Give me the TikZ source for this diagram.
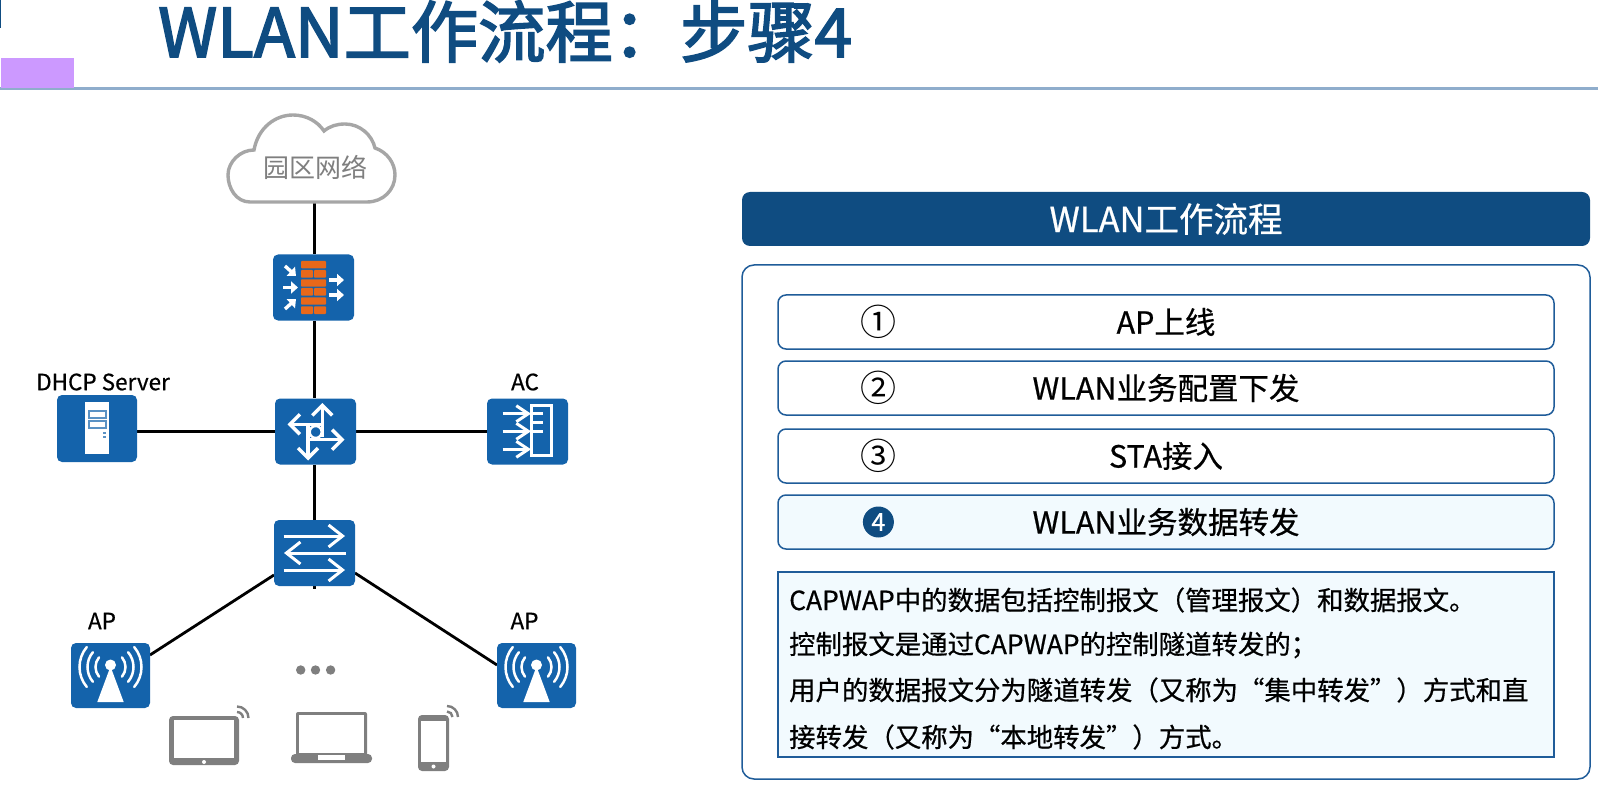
\documentclass[tikz,border=0pt]{standalone}
\usepackage{fontspec}
\setmainfont{Noto Sans CJK SC}
\newfontfamily\heavyfont[FakeBold=2.5]{Noto Sans CJK SC}
\newfontfamily\semifont[FakeBold=0.6]{Noto Sans CJK SC}
\usetikzlibrary{arrows.meta,backgrounds}
\definecolor{titleblue}{HTML}{0F4C81}
\definecolor{iconblue}{HTML}{1463AB}
\definecolor{boxline}{HTML}{1F5C99}
\definecolor{palefill}{HTML}{F2FAFE}
\definecolor{brick}{HTML}{E8681A}
\definecolor{devgrey}{HTML}{7F7F7F}
\definecolor{lilac}{HTML}{CC99FF}
\newcommand{\fsz}[1]{\fontsize{#1}{#1}\selectfont}
\tikzset{
  icon/.style={fill=iconblue,rounded corners=5pt,minimum width=#1,minimum height=66pt,inner sep=0pt},
  icon/.default=80pt,
  link/.style={draw=black,line width=2.8pt},
  rowbox/.style={draw=boxline,line width=1.5pt,rounded corners=8pt,minimum width=776pt,minimum height=54pt,inner sep=0pt,fill=white},
  rowtext/.style={font=\semifont\fsz{30.5},text=black,inner sep=0pt,anchor=center},
  numtext/.style={font=\fsz{36},text=black,inner sep=0pt,anchor=center},
  label/.style={font=\semifont\fsz{22.5},text=black,inner sep=0pt,anchor=center},
  body/.style={font=\semifont\fsz{26.4},text=black,inner sep=0pt,anchor=west},
  rbarb/.style={draw=white,line width=3.4pt,-{Straight Barb[length=10pt,width=20pt,line width=3.4pt]}},
  sbarb/.style={draw=white,line width=3pt,-{Straight Barb[length=14pt,width=22pt,line width=3pt]}},
  abarb/.style={draw=white,line width=3pt,-{Straight Barb[length=12pt,width=16pt,line width=3pt]}},
  wtri/.style={draw=white,line width=3.4pt,-{Triangle[length=7pt,width=12pt,fill=white]}},
  brickrow/.style={fill=brick,rounded corners=0.8pt},
  wave/.style={draw=white,line width=2.5pt,line cap=round},
  devwave/.style={draw=devgrey,line width=2.4pt},
  apicon/.pic={
    \fill[white] (0,-9) -- (-13.2,26.5) -- (13.2,26.5) -- cycle;
    \fill[white] (0,-10.5) circle[radius=5.5];
    \foreach \r in {15,23,31}{
      \draw[wave] (0,-8.5) ++(-40:\r) arc[start angle=-40,end angle=40,radius=\r];
      \draw[wave] (0,-8.5) ++(140:\r) arc[start angle=140,end angle=220,radius=\r];
    }
  }
}
\begin{document}
\begin{tikzpicture}[x=1pt,y=-1pt]
\useasboundingbox (0,0) rectangle (1598,786);
% header furniture
\fill[titleblue] (0,0) rectangle (1,28);
\fill[boxline!50!white] (0,87.5) rectangle (1598,90);
\fill[lilac] (1,58) rectangle (74,88);
\node[inner sep=0pt,anchor=base west,text=titleblue,font=\heavyfont\fsz{67.3}] (title) at (158,57) {WLAN工作流程：步骤4};
% cloud
\draw[draw=black!35,line width=3.4pt,fill=white]
  (250,202) .. controls (236,202) and (228,188) .. (228,175)
  .. controls (228,162) and (240,150) .. (254,150)
  .. controls (258,128) and (275,115) .. (293,115)
  .. controls (307,115) and (318,122) .. (324,131)
  .. controls (330,126) and (337,124) .. (345,124)
  .. controls (360,124) and (372,135) .. (375,148)
  .. controls (387,152) and (395,163) .. (395,175)
  .. controls (395,190) and (383,202) .. (367,202) -- cycle;
\node[inner sep=0pt,font=\fsz{26},text=devgrey] (cloud) at (315,167) {园区网络};
\coordinate (cloudb) at (314.7,203);
% device nodes
\node[icon=81pt] (fw) at (313.5,287.5) {};
\node[icon=81pt] (router) at (315.5,431.5) {};
\node[icon=80pt,minimum height=67pt] (srv) at (97,428.5) {};
\node[icon=81pt] (ac) at (527.5,431.5) {};
\node[icon=81pt] (sw) at (314.5,553) {};
\node[icon=79pt,minimum height=65pt] (apl) at (110.5,675.5) {};
\node[icon=79pt,minimum height=65pt] (apr) at (536.5,675.5) {};
\coordinate (swstub) at (314.7,589);
\coordinate (swl) at (274,575);
\coordinate (swr) at (355,573);
\coordinate (apla) at (150,655);
\coordinate (apra) at (497,665);
% connectors
\begin{scope}[on background layer]
\draw[link] (cloudb) -- (cloudb |- fw.north);
\draw[link] (cloudb |- fw.south) -- (cloudb |- router.north);
\draw[link] (cloudb |- router.south) -- (cloudb |- sw.north);
\draw[link] (cloudb |- sw.south) -- (swstub);
\draw[link] (router.west) -- (router.west -| srv.east);
\draw[link] (router.east) -- (ac.west);
\draw[link] (swl) -- (apla);
\draw[link] (swr) -- (apra);
\end{scope}
% firewall glyph
\fill[brickrow] (301,261) rectangle (326,268.3);
\fill[brickrow] (301,270) rectangle (313,277.7);
\fill[brickrow] (314,270) rectangle (326,277.7);
\fill[brickrow] (301,279.3) rectangle (326,286.7);
\fill[brickrow] (301,288) rectangle (313,295.7);
\fill[brickrow] (314,288) rectangle (326,295.7);
\fill[brickrow] (301,297.3) rectangle (326,304.7);
\fill[brickrow] (301,306.3) rectangle (313,314);
\fill[brickrow] (314,306.3) rectangle (326,314);
\draw[wtri] (285,266) -- (296,276);
\draw[wtri] (283,287.5) -- (298,287.5);
\draw[wtri] (285,309) -- (296,299);
\draw[wtri] (329,280) -- (344,280);
\draw[wtri] (329,295) -- (344,295);
% router glyph
\draw[rbarb] (322.3,437) -- (322.3,403);
\draw[rbarb] (323,424.3) -- (287.5,424.3);
\draw[rbarb] (309,439.7) -- (344.5,439.7);
\draw[rbarb] (308,425) -- (308,460.5);
\draw[draw=white,line width=2.4pt,fill=iconblue] (315.7,432) circle[radius=6];
% server glyph
\fill[white] (85.4,402) rectangle (109,454);
\draw[draw=iconblue!70!white,line width=1.4pt] (89,411) rectangle (106,418);
\draw[draw=iconblue!70!white,line width=1.4pt] (89,421) rectangle (106,428);
\fill[iconblue!70!white] (102.5,431.5) rectangle (106,434);
\fill[iconblue!70!white] (102.5,435.5) rectangle (106,438);
% AC glyph
\draw[draw=white,line width=3pt] (531.7,405) rectangle (551.7,455);
\draw[draw=white,line width=3pt] (531.7,413.7) -- (543,413.7);
\draw[draw=white,line width=3pt] (531.7,422.7) -- (543,422.7);
\draw[draw=white,line width=3pt] (531.7,431.3) -- (543,431.3);
\draw[abarb] (502.7,413.7) -- (531,413.7);
\draw[abarb] (502.7,431.3) -- (531,431.3);
\draw[abarb] (502.7,449.3) -- (531,449.3);
% switch glyph
\draw[sbarb] (283.6,536) -- (345,536);
\draw[sbarb] (346,553) -- (284,553);
\draw[sbarb] (283.6,570) -- (345,570);
% AP glyphs
\pic at (110.5,675.5) {apicon};
\pic at (536.5,675.5) {apicon};
% labels
\node[label] (ldhcp) at (103,382) {DHCP Server};
\node[label] (lac) at (525,382) {AC};
\node[label] (lapl) at (102,621) {AP};
\node[label] (lapr) at (524.5,621) {AP};
% dots
\fill[devgrey] (300.7,670) circle[radius=4.7];
\fill[devgrey] (315.5,670) circle[radius=4.7];
\fill[devgrey] (330.6,670) circle[radius=4.7];
% tablet
\fill[devgrey,rounded corners=4pt] (169,716) rectangle (239,765);
\fill[white] (174,720) rectangle (233.5,758);
\fill[white] (204,762) circle[radius=2];
\draw[devwave] (237,718) ++(0:6) arc[start angle=0,end angle=-90,radius=6];
\draw[devwave] (237,718) ++(0:11.5) arc[start angle=0,end angle=-90,radius=11.5];
% laptop
\fill[devgrey,rounded corners=2pt] (296,712) rectangle (367,757);
\fill[white] (299,715) rectangle (364,753);
\fill[devgrey,rounded corners=4pt] (291,754) rectangle (372,763);
\fill[white] (318,755) rectangle (345,760);
% phone
\fill[devgrey,rounded corners=4pt] (418,715) rectangle (449,771);
\fill[white] (421,721) rectangle (446,762);
\fill[white] (433.5,766.5) circle[radius=2];
\draw[devwave] (447,717) ++(0:5.5) arc[start angle=0,end angle=-90,radius=5.5];
\draw[devwave] (447,717) ++(0:11) arc[start angle=0,end angle=-90,radius=11];
% right panel
\node[fill=titleblue,rounded corners=8pt,minimum width=848pt,minimum height=54pt,inner sep=0pt] (hdr) at (1166,219) {};
\node[inner sep=0pt,font=\semifont\fsz{34.5},text=white] (hdrt) at (1166,219) {WLAN工作流程};
\draw[draw=boxline,line width=1.5pt,rounded corners=12pt] (742,265) rectangle (1590,779);
\node[rowbox] (r1) at (1166,322) {};
\node[rowbox] (r2) at (1166,388) {};
\node[rowbox] (r3) at (1166,456) {};
\node[rowbox,fill=palefill] (r4) at (1166,522) {};
\node[numtext] (n1) at (878.4,322) {①};
\node[numtext] (n2) at (878.4,388) {②};
\node[numtext] (n3) at (878.4,456) {③};
\node[circle,fill=titleblue,minimum size=31pt,inner sep=0pt,font=\semifont\fsz{25},text=white] (n4) at (878.4,522) {4};
\node[rowtext] (t1) at (1166,322) {AP上线};
\node[rowtext] (t2) at (1166,388) {WLAN业务配置下发};
\node[rowtext] (t3) at (1166,456) {STA接入};
\node[rowtext] (t4) at (1166,522) {WLAN业务数据转发};
\draw[draw=boxline,line width=1.5pt,fill=palefill] (778,572) rectangle (1554,757);
\node[body] (b1) at (789,600) {CAPWAP中的数据包括控制报文（管理报文）和数据报文。};
\node[body] (b2) at (789,645) {控制报文是通过CAPWAP的控制隧道转发的；};
\node[body] (b3) at (789,690) {用户的数据报文分为隧道转发（又称为“集中转发”）方式和直};
\node[body] (b4) at (789,737) {接转发（又称为“本地转发”）方式。};
\end{tikzpicture}
\end{document}
